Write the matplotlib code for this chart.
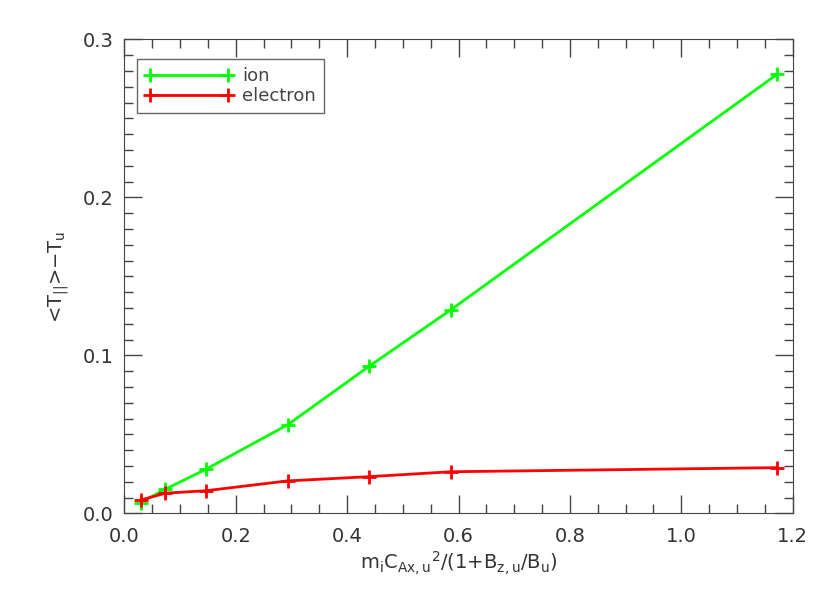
import numpy as np
import matplotlib.pyplot as plt
from matplotlib.ticker import MultipleLocator

plt.rcParams['font.family'] = 'DejaVu Sans'
plt.rcParams['mathtext.default'] = 'regular'

# values
x = [0.0293, 0.0733, 0.1465, 0.293, 0.4395, 0.586, 1.172]
ion = [0.0068, 0.0152, 0.0279, 0.056, 0.0931, 0.1288, 0.278]
electron = [0.0084, 0.0127, 0.0143, 0.0205, 0.0232, 0.0263, 0.0289]

txt = '#333333'

fig = plt.figure(figsize=(8.3, 5.93), dpi=100)
ax = fig.add_axes([0.1498, 0.1344, 0.8053, 0.799])

ax.plot(x, ion, color='#00ff00', lw=2, marker='+', ms=10, mew=2, label='ion')
ax.plot(x, electron, color='#ff0000', lw=2, marker='+', ms=10, mew=2, label='electron')

ax.set_xlim(0, 1.2)
ax.set_ylim(0, 0.3)
ax.xaxis.set_major_locator(MultipleLocator(0.2))
ax.xaxis.set_minor_locator(MultipleLocator(0.05))
ax.yaxis.set_major_locator(MultipleLocator(0.1))
ax.yaxis.set_minor_locator(MultipleLocator(0.01))
ax.set_xticklabels(['%.1f' % v for v in ax.get_xticks()])
ax.set_yticklabels(['%.1f' % v for v in ax.get_yticks()])

ax.tick_params(which='both', direction='in', top=True, right=True,
               colors='#444444', labelcolor=txt, labelsize=14, width=1)
ax.tick_params(which='major', length=13)
ax.tick_params(axis='x', which='major', pad=10)
ax.tick_params(axis='y', which='major', pad=8)
ax.tick_params(which='minor', length=6.5)
for s in ax.spines.values():
    s.set_color('#444444')

ax.set_xlabel('m$_i$C$_{Ax,u}$$^2$/(1+B$_{z,u}$/B$_u$)', fontsize=14, color=txt, labelpad=2)
ax.set_ylabel('<T$_{||}$>$-$T$_u$', fontsize=14, color=txt, labelpad=8)

leg = ax.legend(loc='upper left', bbox_to_anchor=(0.0186, 0.959), borderaxespad=0,
                fontsize=13, numpoints=2, handlelength=4.9, handletextpad=0.5,
                fancybox=False, framealpha=1, edgecolor='#666666',
                labelspacing=0.1, borderpad=0.45)
for t in leg.get_texts():
    t.set_color('#444444')

plt.savefig('out.png', dpi=100)
